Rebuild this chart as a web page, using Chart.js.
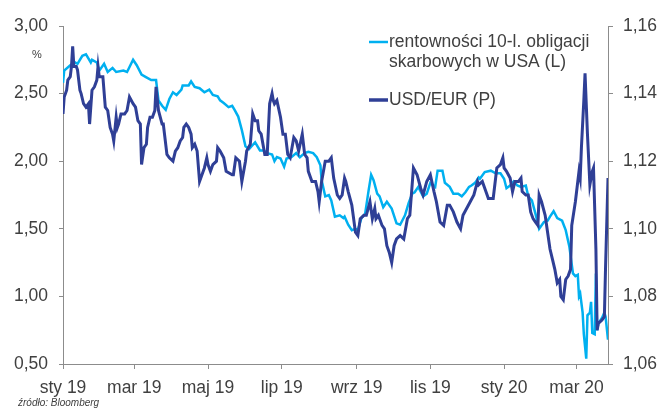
<!DOCTYPE html>
<html lang="pl">
<head>
<meta charset="utf-8">
<script src="https://cdn.jsdelivr.net/npm/chart.js@4.4.1/dist/chart.umd.min.js"></script>
<style>
  html, body { margin: 0; padding: 0; background: #ffffff; }
  #wrap { width: 661px; height: 408px; }
</style>
</head>
<body>
<div id="wrap"><canvas id="yieldChart" width="661" height="408"></canvas></div>
<script>
// days counted from 1 Jan 2019
const monthTicks = [0, 59, 120, 181, 243, 304, 365, 425];
const monthLabels = ['sty 19', 'mar 19', 'maj 19', 'lip 19', 'wrz 19', 'lis 19', 'sty 20', 'mar 20'];

const leftTicks = [0.5, 1.0, 1.5, 2.0, 2.5, 3.0];
const rightTicks = [1.06, 1.08, 1.10, 1.12, 1.14, 1.16];

const seriesNames = ['rentowności 10-l. obligacji skarbowych w USA (L)', 'USD/EUR (P)'];

// rentowność 10-letnich obligacji USA (%)
const yieldDays = [0, 1, 6, 10, 12, 16, 19, 21, 23, 24, 28, 30, 34, 37, 41, 44, 50, 53, 58, 61,
    65, 69, 73, 77, 79, 82, 85, 88, 91, 94, 98, 99, 104, 106, 109, 113, 117, 121, 124, 128,
    130, 133, 137, 140, 142, 145, 148, 151, 154, 159, 163, 166, 169, 173, 175, 177, 180, 183, 185, 189,
    193, 196, 200, 203, 207, 210, 213, 214, 217, 220, 222, 225, 229, 232, 233, 236, 239, 242, 244, 247,
    250, 253, 255, 257, 260, 262, 265, 268, 272, 276, 279, 283, 286, 289, 291, 294, 298, 301, 304, 308,
    310, 314, 316, 320, 323, 327, 330, 333, 336, 338, 341, 344, 345, 349, 354, 358, 362, 365, 367, 370,
    373, 376, 379, 383, 385, 388, 391, 394, 398, 401, 403, 406, 409, 413, 416, 419, 422, 424, 426, 427,
    428, 430, 431, 433, 434, 436, 437, 438, 440, 441, 442, 443, 446, 448, 449, 451];
const yieldValues = [2.58, 2.67, 2.71, 2.73, 2.72, 2.78, 2.79, 2.76, 2.73, 2.75, 2.73, 2.67, 2.72, 2.66, 2.69, 2.66, 2.67, 2.66, 2.75, 2.71,
    2.64, 2.62, 2.60, 2.60, 2.45, 2.41, 2.38, 2.46, 2.51, 2.49, 2.53, 2.56, 2.56, 2.59, 2.55, 2.54, 2.51, 2.53, 2.49, 2.48,
    2.45, 2.43, 2.40, 2.41, 2.38, 2.33, 2.23, 2.11, 2.09, 2.14, 2.08, 2.08, 2.06, 2.05, 2.00, 2.03, 2.02, 1.96, 2.02, 2.03,
    2.06, 2.03, 2.06, 2.07, 2.06, 2.03, 1.97, 1.86, 1.74, 1.75, 1.71, 1.59, 1.60, 1.58, 1.59, 1.53, 1.49, 1.50, 1.49, 1.58,
    1.61, 1.79, 1.90, 1.86, 1.76, 1.74, 1.66, 1.70, 1.65, 1.54, 1.53, 1.60, 1.69, 1.76, 1.77, 1.81, 1.74, 1.76, 1.84, 1.81,
    1.93, 1.93, 1.84, 1.81, 1.76, 1.76, 1.74, 1.77, 1.81, 1.82, 1.84, 1.88, 1.87, 1.92, 1.93, 1.91, 1.91, 1.87, 1.80, 1.82,
    1.85, 1.82, 1.81, 1.82, 1.74, 1.71, 1.61, 1.50, 1.55, 1.56, 1.59, 1.63, 1.58, 1.56, 1.49, 1.37, 1.17, 1.15, 1.16, 1.00,
    1.02, 0.88, 0.72, 0.54, 0.86, 0.88, 0.96, 0.73, 0.72, 1.17, 0.75, 0.80, 0.84, 0.88, 0.85, 0.68];

// kurs USD/EUR
const fxDays = [0, 1, 3, 4, 6, 7, 8, 9, 11, 12, 14, 15, 17, 19, 21, 22, 24, 26, 28, 29,
    30, 33, 35, 37, 39, 41, 42, 44, 45, 46, 48, 51, 53, 55, 58, 60, 62, 64, 65, 67,
    69, 70, 72, 74, 76, 77, 79, 82, 83, 86, 88, 91, 93, 95, 97, 99, 100, 102, 104, 106,
    107, 109, 111, 113, 115, 117, 119, 120, 122, 124, 127, 128, 130, 133, 135, 140, 141, 143, 146, 148,
    151, 152, 155, 157, 159, 161, 162, 164, 166, 167, 169, 171, 173, 174, 175, 177, 180, 182, 184, 186,
    188, 191, 193, 195, 198, 200, 202, 203, 206, 209, 211, 212, 214, 217, 220, 222, 224, 227, 229, 231,
    233, 234, 236, 239, 242, 244, 246, 249, 251, 254, 256, 258, 259, 261, 264, 266, 268, 270, 272, 274,
    276, 279, 282, 285, 287, 290, 293, 296, 298, 301, 304, 307, 309, 312, 315, 318, 320, 323, 326, 329,
    331, 334, 337, 340, 343, 344, 347, 349, 352, 356, 359, 362, 364, 365, 367, 370, 372, 374, 377, 379,
    380, 383, 385, 387, 389, 391, 393, 394, 396, 399, 401, 403, 405, 407, 409, 411, 412, 414, 416, 418,
    420, 421, 424, 426, 427, 428, 429, 431, 432, 434, 436, 438, 439, 441, 442, 443, 446, 448, 449, 451];
const fxValues = [1.134, 1.139, 1.141, 1.144, 1.145, 1.148, 1.154, 1.148, 1.148, 1.147, 1.141, 1.140, 1.137, 1.136, 1.137, 1.131, 1.141, 1.142, 1.144, 1.148,
    1.145, 1.145, 1.136, 1.135, 1.130, 1.128, 1.126, 1.133, 1.130, 1.131, 1.134, 1.134, 1.135, 1.139, 1.137, 1.136, 1.132, 1.131, 1.119, 1.124,
    1.125, 1.130, 1.133, 1.133, 1.135, 1.142, 1.135, 1.131, 1.131, 1.122, 1.121, 1.120, 1.123, 1.124, 1.126, 1.127, 1.130, 1.131, 1.130, 1.128,
    1.124, 1.125, 1.123, 1.114, 1.116, 1.118, 1.121, 1.119, 1.117, 1.119, 1.120, 1.124, 1.123, 1.121, 1.117, 1.116, 1.116, 1.121, 1.120, 1.114,
    1.120, 1.123, 1.125, 1.134, 1.132, 1.132, 1.129, 1.128, 1.124, 1.122, 1.122, 1.137, 1.140, 1.138, 1.137, 1.138, 1.133, 1.128, 1.128, 1.122,
    1.121, 1.127, 1.126, 1.123, 1.128, 1.122, 1.121, 1.117, 1.114, 1.114, 1.111, 1.108, 1.114, 1.120, 1.120, 1.121, 1.115, 1.110, 1.109, 1.110,
    1.115, 1.114, 1.111, 1.107, 1.099, 1.098, 1.103, 1.104, 1.104, 1.108, 1.103, 1.106, 1.103, 1.104, 1.101, 1.100, 1.095, 1.093, 1.090, 1.095,
    1.097, 1.098, 1.097, 1.103, 1.104, 1.118, 1.116, 1.112, 1.110, 1.114, 1.116, 1.111, 1.108, 1.102, 1.101, 1.107, 1.107, 1.105, 1.102, 1.100,
    1.104, 1.106, 1.108, 1.110, 1.114, 1.113, 1.114, 1.112, 1.109, 1.109, 1.118, 1.119, 1.121, 1.118, 1.117, 1.115, 1.111, 1.114, 1.114, 1.115,
    1.111, 1.110, 1.110, 1.105, 1.103, 1.102, 1.101, 1.110, 1.108, 1.104, 1.099, 1.094, 1.091, 1.088, 1.084, 1.085, 1.080, 1.079, 1.085, 1.086,
    1.088, 1.101, 1.108, 1.114, 1.117, 1.115, 1.124, 1.138, 1.146, 1.128, 1.113, 1.117, 1.118, 1.094, 1.070, 1.072, 1.073, 1.074, 1.089, 1.115];

const lightBlue = '#00b0f0';
const darkBlue = '#2f3f96';
const textColor = '#404040';
const axisColor = '#8c8c8c';
const fontFamily = '"Liberation Sans", Arial, sans-serif';

Chart.defaults.font.family = fontFamily;

const fmt = v => v.toFixed(2).replace('.', ',');

// legend + side notes drawn by hand
const notesPlugin = {
    id: 'notes',
    afterDraw(chart) {
        const ctx = chart.ctx;
        const area = chart.chartArea;
        const lx = area.right - 239;
        ctx.save();
        ctx.lineCap = 'butt';
        ctx.strokeStyle = lightBlue;
        ctx.lineWidth = 2.5;
        ctx.beginPath();
        ctx.moveTo(lx, area.top + 16);
        ctx.lineTo(lx + 19, area.top + 16);
        ctx.stroke();
        ctx.strokeStyle = darkBlue;
        ctx.lineWidth = 3.5;
        ctx.beginPath();
        ctx.moveTo(lx, area.top + 74);
        ctx.lineTo(lx + 19, area.top + 74);
        ctx.stroke();

        ctx.fillStyle = textColor;
        ctx.font = '17.5px ' + fontFamily;
        ctx.textAlign = 'left';
        ctx.textBaseline = 'middle';
        ctx.fillText('rentowności 10-l. obligacji', lx + 20, area.top + 16.5);
        ctx.fillText('skarbowych w USA (L)', lx + 20, area.top + 36);
        ctx.fillText(seriesNames[1], lx + 20, area.top + 74.5);

        ctx.font = '11px ' + fontFamily;
        ctx.textAlign = 'center';
        ctx.fillText('%', 37, 55);

        ctx.font = 'italic 10px ' + fontFamily;
        ctx.textAlign = 'left';
        ctx.fillText('źródło: Bloomberg', 18, 403);
        ctx.restore();
    }
};

const ctx = document.getElementById('yieldChart').getContext('2d');
new Chart(ctx, {
    type: 'line',
    data: {
        datasets: [
            {
                label: seriesNames[0],
                data: yieldDays.map((d, i) => ({ x: d, y: yieldValues[i] })),
                borderColor: lightBlue,
                borderWidth: 2.5,
                pointRadius: 0,
                tension: 0,
                yAxisID: 'y',
                order: 2
            },
            {
                label: seriesNames[1],
                data: fxDays.map((d, i) => ({ x: d, y: fxValues[i] })),
                borderColor: darkBlue,
                borderWidth: 3,
                pointRadius: 0,
                tension: 0,
                yAxisID: 'y1',
                order: 1
            }
        ]
    },
    options: {
        responsive: false,
        animation: false,
        devicePixelRatio: 1,
        layout: {
            padding: { top: 26, left: 0, right: 0, bottom: 0 }
        },
        plugins: {
            legend: { display: false },
            tooltip: { enabled: false },
            title: { display: false }
        },
        scales: {
            x: {
                type: 'linear',
                min: 0,
                max: 451,
                afterBuildTicks: (scale) => {
                    scale.ticks = monthTicks.map(v => ({ value: v }));
                },
                afterFit: (scale) => { scale.height = 44; },
                grid: {
                    drawOnChartArea: false,
                    drawTicks: true,
                    tickLength: 5,
                    color: axisColor
                },
                border: { display: true, color: axisColor, width: 1 },
                ticks: {
                    autoSkip: false,
                    maxRotation: 0,
                    padding: 9,
                    color: textColor,
                    font: { size: 17.5 },
                    callback: (value) => {
                        const i = monthTicks.indexOf(value);
                        return i >= 0 ? monthLabels[i] : '';
                    }
                }
            },
            y: {
                position: 'left',
                min: leftTicks[0],
                max: leftTicks[leftTicks.length - 1],
                afterBuildTicks: (scale) => {
                    scale.ticks = leftTicks.map(v => ({ value: v }));
                },
                afterFit: (scale) => { scale.width = 63; },
                grid: {
                    drawOnChartArea: false,
                    drawTicks: true,
                    tickLength: 4,
                    color: axisColor
                },
                border: { display: true, color: axisColor, width: 1 },
                ticks: {
                    padding: 11,
                    color: textColor,
                    font: { size: 17.5 },
                    callback: (value) => fmt(value)
                }
            },
            y1: {
                position: 'right',
                min: rightTicks[0],
                max: rightTicks[rightTicks.length - 1],
                afterBuildTicks: (scale) => {
                    scale.ticks = rightTicks.map(v => ({ value: v }));
                },
                afterFit: (scale) => { scale.width = 53; },
                grid: {
                    drawOnChartArea: false,
                    drawTicks: true,
                    tickLength: 5,
                    color: axisColor
                },
                border: { display: true, color: axisColor, width: 1 },
                ticks: {
                    padding: 10,
                    color: textColor,
                    font: { size: 17.5 },
                    callback: (value) => fmt(value)
                }
            }
        }
    },
    plugins: [notesPlugin]
});
</script>
</body>
</html>
